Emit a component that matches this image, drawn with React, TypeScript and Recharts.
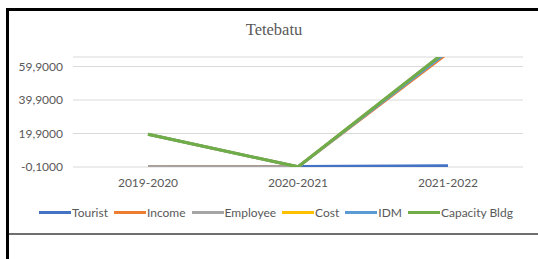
import React from "react";
import { LineChart, Line, XAxis, YAxis, CartesianGrid, Legend } from "recharts";

const periods = ["2019-2020", "2020-2021", "2021-2022"];
const tourist = [0, 0.2, 0.7];
const income = [0, 0, 68];
const employee = [0, 0, 70];
const cost = [19.5, 0, 69.5];
const idm = [19.5, 0, 69];
const capacityBldg = [19.5, 0, 70];
const yTicks = [-0.1, 19.9, 39.9, 59.9];

const series = [
  { key: "Tourist", values: tourist, color: "#4472C4" },
  { key: "Income", values: income, color: "#ED7D31" },
  { key: "Employee", values: employee, color: "#A5A5A5" },
  { key: "Cost", values: cost, color: "#FFC000" },
  { key: "IDM", values: idm, color: "#5B9BD5" },
  { key: "Capacity Bldg", values: capacityBldg, color: "#70AD47" },
];

const data = periods.map((p, i) => {
  const row: Record<string, string | number> = { period: p };
  series.forEach((s) => {
    row[s.key] = s.values[i];
  });
  return row;
});

const fmt = (v: number) => v.toFixed(4).replace(".", ",");

const font = "Lato, 'Liberation Sans', sans-serif";

const LegendRow = () => (
  <div
    style={{
      display: "flex",
      justifyContent: "center",
      alignItems: "center",
      fontFamily: font,
      fontSize: 12,
      color: "#595959",
    }}
  >
    {series.map((s) => (
      <div key={s.key} style={{ display: "flex", alignItems: "center", margin: "0 3px" }}>
        <div style={{ width: 32, height: 3, background: s.color, marginRight: 1 }} />
        <span>{s.key}</span>
      </div>
    ))}
  </div>
);

const App = () => {
  return (
    <div
      style={{
        position: "absolute",
        left: 0,
        top: 0,
        width: 538,
        height: 259,
        background: "#fff",
        overflow: "hidden",
      }}
    >
      <div style={{ position: "absolute", left: 6, top: 8, width: 532, height: 3, background: "#000" }} />
      <div style={{ position: "absolute", left: 6, top: 8, width: 3, height: 251, background: "#000" }} />
      <div style={{ position: "absolute", left: 9, top: 233, width: 529, height: 2, background: "#6f6f6f" }} />
      <div
        style={{
          position: "absolute",
          left: 0,
          width: 548,
          top: 22,
          lineHeight: "16px",
          textAlign: "center",
          fontFamily: "'Liberation Serif', serif",
          fontSize: 16.5,
          color: "#595959",
        }}
      >
        Tetebatu
      </div>
      <div style={{ position: "absolute", left: 0, top: 0 }}>
        <LineChart
          width={538}
          height={233}
          data={data}
          margin={{ top: 57, right: 15, bottom: 36, left: 13 }}
        >
          <CartesianGrid vertical={false} stroke="#d9d9d9" />
          <XAxis
            dataKey="period"
            axisLine={false}
            tickLine={false}
            tickMargin={5}
            height={30}
            padding={{ left: 75, right: 75 }}
            tick={{ fill: "#595959", fontSize: 12, fontFamily: font }}
          />
          <YAxis
            width={60}
            domain={[-0.1, 65.6]}
            ticks={yTicks}
            allowDataOverflow
            axisLine={false}
            tickLine={false}
            tickMargin={4}
            tickFormatter={fmt}
            tick={{ fill: "#595959", fontSize: 12, fontFamily: font }}
          />
          <Legend
            verticalAlign="middle"
            align="center"
            layout="horizontal"
            wrapperStyle={{ top: 205, left: 0, width: 552 }}
            content={() => <LegendRow />}
          />
          {series.map((s) => (
            <Line
              key={s.key}
              dataKey={s.key}
              stroke={s.color}
              strokeWidth={3}
              dot={false}
              type="linear"
              isAnimationActive={false}
            />
          ))}
        </LineChart>
      </div>
    </div>
  );
};

export default App;
